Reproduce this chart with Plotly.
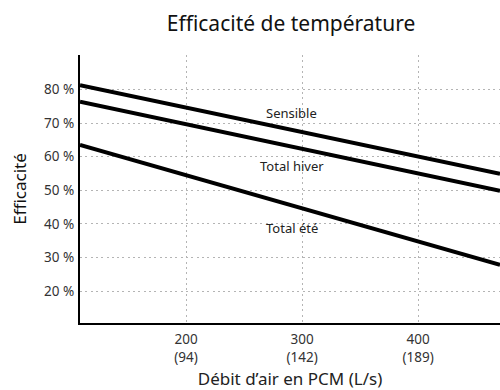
import plotly.graph_objects as go

# Airflow (CFM) at the two ends of the plotted span
debit_pcm = [108.6, 470.6]

# Efficiency (%) at each end of the span
sensible = [81.3, 54.9]
total_hiver = [76.4, 49.9]
total_ete = [63.5, 27.8]

x_ticks = [200, 300, 400]
x_tick_labels = ["200<br>(94)", "300<br>(142)", "400<br>(189)"]
y_ticks = [20, 30, 40, 50, 60, 70, 80]
y_tick_labels = [f"{v} %" for v in y_ticks]

series = [
    ("Sensible", sensible, 73.0),
    ("Total hiver", total_hiver, 57.2),
    ("Total été", total_ete, 38.8),
]
label_x = 291

font_family = "Noto Sans"
grid_style = dict(showgrid=True, gridcolor="#b4b4b4", griddash="2px,3.3px",
                  gridwidth=1)

fig = go.Figure()
for name, vals, ly in series:
    fig.add_trace(go.Scatter(
        x=debit_pcm, y=vals, mode="lines", name=name,
        line=dict(color="black", width=4), showlegend=False,
        hoverinfo="skip",
    ))
    fig.add_annotation(
        x=label_x, y=ly, text=name, showarrow=False,
        font=dict(family=font_family, size=13, color="#222"),
    )

fig.update_layout(
    width=500, height=390,
    margin=dict(l=80, r=0, t=55, b=67),
    paper_bgcolor="white", plot_bgcolor="white",
    title=dict(
        text="Efficacité de température",
        x=0.582, xanchor="center", y=0.94, yanchor="middle",
        font=dict(family=font_family, size=21, color="#111"),
    ),
    font=dict(family=font_family, color="#333"),
)

fig.update_xaxes(
    range=debit_pcm, tickvals=x_ticks, ticktext=x_tick_labels,
    **grid_style,
    showline=True, linecolor="black", linewidth=2,
    ticks="", zeroline=False, ticklabelstandoff=3,
    tickfont=dict(family=font_family, size=13.5, color="#333"),
    title=dict(text="Débit d’air en PCM (L/s)", standoff=13,
               font=dict(family=font_family, size=17, color="#222")),
)
fig.update_yaxes(
    range=[10.5, 90.3], tickvals=y_ticks, ticktext=y_tick_labels,
    **grid_style,
    showline=True, linecolor="black", linewidth=2,
    ticks="", zeroline=False, ticklabelstandoff=1,
    tickfont=dict(family=font_family, size=13.5, color="#333"),
    title=dict(text="Efficacité", standoff=13,
               font=dict(family=font_family, size=17, color="#111")),
)

fig.write_html("out.html")
